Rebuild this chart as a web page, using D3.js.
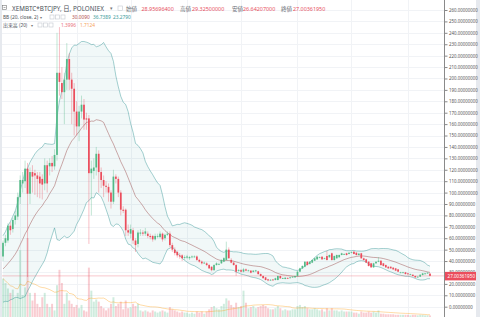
<!DOCTYPE html>
<html><head><meta charset="utf-8">
<script src="https://cdn.jsdelivr.net/npm/d3@7"></script>
<style>
html,body{margin:0;padding:0;background:#fff;}
svg{display:block;}
text{font-family:"Noto Sans","Noto Sans CJK JP",sans-serif;}
text.jp{font-family:"Noto Sans CJK JP","Noto Sans",sans-serif;}
</style></head><body>
<svg id="c" width="480" height="317"></svg>
<script>
// ---- data (JPY per XEM, daily) ----
const priorCloses=[18,19,18,20,19,21,20,22,23,24,26,32,40,47,52,57,54,50,44];
const opens=[44,56,58,71,68,76,79,96,108,110,
121,99,118,117,115,114,112,108,124,123,
126,123,133,205,196,188,199,217,199,191,
171,158,171,177,165,165,117,119,122,134,
118,111,106,105,100,92,114,112,100,85,
85,67,64,67,58,55,64,65,64,64,
62,62,59,62,61,64,60,63,64,54,
50,48,45,45,43,43,42.5,43.5,44,44,
41,39.5,38.5,38,36.5,35,32,36.5,37.5,38,
39.5,41,50,41,38.6,36.5,32,32,30.7,32.7,
31.6,31.6,30.5,31,31,28.6,26.9,25.7,24,23.4,
23.8,23.4,23.4,26.9,24.9,24.3,25.2,25,25.7,25.7,
26.9,30.7,33.6,35,39.4,37.4,38.6,40.3,41.5,43.3,
43.8,42.4,44.4,43.3,46.8,40.9,42.4,43.3,45.3,46.2,
46.8,46.2,47.3,48.2,47.3,45.3,46.8,42.4,41.5,39.4,
38,34.5,38,39.4,40.3,38,36.5,35,35,34.2,
33.6,32.7,29.8,30,30.1,29.2,28.6,28,26.9,26,
26.3,27.8,28.6,29.2,28.956964];
const highs=[58,63,73,74,78,84,100,115,118,128,
126,122,124,120,118,118,116,130,128,130,
132,138,240,245,210,205,231,222,205,196,
180,176,185,182,170,168,128,130,140,137,
122,115,110,108,102,120,116,114,102,88,
86,72,72,69,60,67,68,67,69,66,
64,63,64,64,66,65,64,66,66,56,
52,49,47,46,45,45.5,44.5,45,45,45,
42,40.5,39.5,39,37.5,35.5,37.5,39,38.5,41.5,
43.5,57,52,42.5,39.5,37.5,33,33,34,33.5,
32.5,32,32,32.3,31.5,29.2,27.5,26,24.5,24.2,
24.3,25.5,27.5,27.3,25.6,25.9,25.7,26.2,26.8,27.4,
31.2,34.2,36.3,40,40,40,41.5,43,44.4,44,
44.3,43,49,45.8,47.4,44.9,45.8,45.8,47.3,46.8,
47.3,47.8,48.4,48.7,47.8,47.2,47.2,43,42,40,
38.5,38.5,39.9,43.5,40.8,38.4,37,35.5,35.4,34.7,
34,33.1,30.6,30.6,30.5,29.6,29,28.4,27.3,26.8,
28.4,29.6,29.6,30.2,29.325];
const lows=[40,53,56,63,65,72,76,90,100,104,
26,90,100,98,96,95,94,102,100,115,
118,120,128,185,182,160,190,190,160,150,
150,145,165,155,155,55,80,112,115,100,
104,96,100,92,86,90,108,96,80,82,
62,62,60,55,48,52,62,62,62,60,
59,57,58,60,60,57,58,62,52,48,
45,43,42,40,41,42,41,42.5,43,40,
38.5,37,37.5,35.5,33,31,31.5,36,36.5,37.5,
39,40.5,42,38,36,27,30.5,30,30,31,
31,29.2,30,30.5,28,26.4,24.5,23,22.3,22.8,
22.7,23,23,24.5,24.4,24,24.6,24.7,25.3,25.3,
26.5,30.2,33,34.5,36,37,38.2,40,41,42.7,
41,41.8,40.5,42.8,40.4,40.4,42,43,45,45.7,
44.8,45.8,46.9,45.8,44.8,45,42,40.4,38.2,35.2,
34,34,37.6,39,36,35.2,34,33.2,33.2,32.3,
31.2,30.3,29.4,29.6,28.2,28,28.2,26.5,25.3,25.6,
26,27.4,28.2,28.8,26.64207];
const closes=[56,60,71,67,76,80,96,111,111,121,
99,118,114,115,112,108,107,124,108,126,
123,133,205,197,188,199,217,199,191,171,
158,171,177,164,164,117,121,122,134,118,
111,106,105,100,92,114,112,100,85,84,
67,65,68,58,54,65,65,64,66,62,
61,59,62,62,64,59,63,64,54,50,
47,45,44,42.5,43.5,44,43.5,44,44,41,
39.5,38,38.6,36.5,33.6,32,36.5,38,37.5,41,
42.5,50,42.5,38.6,36.5,30.7,32,30.7,32.7,31.6,
31.8,29.8,31.6,31.8,28.6,26.9,25,23.4,23,23.6,
23.2,24.9,26.9,24.9,25,25.4,25,25.7,26.3,26.9,
30.7,33.6,35.7,39.4,36.5,39.4,40.9,42.4,43.8,43.3,
41.5,42.4,40.9,45.3,40.9,44.4,45.3,45.3,46.8,46.2,
45.3,47.3,47.7,46.2,45.3,46.5,42.4,40.9,38.6,35.7,
34.5,38,39.4,40.3,36.5,35.7,34.5,33.6,33.6,32.7,
31.6,30.7,30.1,30.1,28.6,28.4,28.6,26.9,25.7,26.3,
28,29.2,29.2,29.8,27.0036195];
const volumes=[35,31,26,22,25,18,22,61,20,27,
72,22,15,22,12,9,18,22,12,9,
12,6,29,43,31,12,22,15,12,9,
11,8,11,6,5,45,24,14,16,14,
10,8,6,8,12,18,10,12,14,7,
15,8,9,12,10,12,6,5,6,5,
4,6,5,4,5,6,5,4,9,7,
6,5,4,5,4,4,3,4,3,5,
4,5,3,5,7,9,10,8,7,10,
12,17,15,11,9,13,9,10,24,13,
8,9,10,8,9,10,11,10,8,7,
7,8,10,8,6,7,6,6,7,7,
10,11,9,10,8,7,7,8,7,6,
7,5,8,6,8,6,6,5,6,5,
5,5,5,4,4,3,5,4,4,5,
4,5,4,6,3,3,2.5,2.5,2.5,2.5,
2,2,2,2,2,2,1.5,2,2,1.5,
2,2,1.5,1.5,1.3996];
const priceTicks=[0,10,20,30,40,50,60,70,80,90,100,110,120,130,140,150,160,170,180,190,200,210,220,230,240,250,260];
const gridIdx=[7,30,52,75,97,120,142,165];
const lastPrice=27.00361950;
const titleText="XEMBTC*BTCJPY, 日, POLONIEX";
const ohlcLabels=["始値","高値","安値","終値"];
const ohlcValues=["28.95696400","29.32500000","26.64207000","27.00361950"];
const bbTitle="BB (20, close, 2)";
const bbValues=["30.0090","36.7389","23.2790"];
const volTitle="出来高 (20)";
const volValues=["1.3996","1.7124"];

// ---- drawing ----
const W=480,H=317;
const svg=d3.select('#c');
const n=closes.length;
const x=d3.scaleLinear().domain([0,n-1]).range([3,430]);
const y=d3.scaleLinear().domain([0,260]).range([306.7,10]);
const yv=d3.scaleLinear().domain([0,72]).range([317,238]);
const step=x(1)-x(0);
const UP='#53b987', DN='#eb4d5c';

svg.append('rect').attr('width',W).attr('height',H).attr('fill','#e6e9ee');
svg.append('rect').attr('x',2).attr('y',0).attr('width',474).attr('height',H).attr('fill','#fff');

// grid
const gg=svg.append('g').attr('stroke','#f1f3f6').attr('stroke-width',1);
gg.selectAll('line.h').data(priceTicks).join('line')
  .attr('x1',2).attr('x2',444).attr('y1',d=>Math.round(y(d))+0.5).attr('y2',d=>Math.round(y(d))+0.5);
gg.selectAll('line.v').data(gridIdx).join('line')
  .attr('x1',d=>Math.round(x(d))+0.5).attr('x2',d=>Math.round(x(d))+0.5).attr('y1',0).attr('y2',H);

const data=closes.map((c,i)=>({i,o:opens[i],h:highs[i],l:lows[i],c,v:volumes[i],up:c>=opens[i]}));

// volume
svg.append('g').selectAll('rect').data(data).join('rect')
  .attr('x',d=>x(d.i)-step*0.4).attr('width',step*0.8)
  .attr('y',d=>yv(d.v)).attr('height',d=>yv(0)-yv(d.v))
  .attr('fill',d=>d.up?UP:DN).attr('fill-opacity',0.28);
const vma=data.map(d=>({i:d.i,v:d3.mean(volumes.slice(Math.max(0,d.i-19),d.i+1))}));
svg.append('path').datum(vma)
  .attr('d',d3.line().x(d=>x(d.i)).y(d=>yv(d.v)))
  .attr('fill','none').attr('stroke','#ff9800').attr('stroke-opacity',0.35).attr('stroke-width',1);

// Bollinger
const all=priorCloses.concat(closes);
const bb=closes.map((c,i)=>{const w=all.slice(i,i+20);const m=d3.mean(w);const s=Math.sqrt(d3.mean(w,v=>(v-m)*(v-m)));return {i,m,u:m+2*s,l:m-2*s};});
svg.append('path').datum(bb)
  .attr('d',d3.area().x(d=>x(d.i)).y0(d=>y(d.l)).y1(d=>y(d.u)))
  .attr('fill','#198787').attr('fill-opacity',0.06);
[['u','#138484'],['l','#138484'],['m','#872323']].forEach(([k,col])=>{
  svg.append('path').datum(bb)
    .attr('d',d3.line().x(d=>x(d.i)).y(d=>y(d[k])))
    .attr('fill','none').attr('stroke',col).attr('stroke-opacity',0.38).attr('stroke-width',1);
});

// last price line
svg.append('line').attr('x1',2).attr('x2',444)
  .attr('y1',y(lastPrice)).attr('y2',y(lastPrice))
  .attr('stroke',DN).attr('stroke-opacity',0.3).attr('stroke-width',1);

// candles
const cg=svg.append('g');
cg.selectAll('line').data(data).join('line')
  .attr('x1',d=>x(d.i)).attr('x2',d=>x(d.i))
  .attr('y1',d=>y(d.h)).attr('y2',d=>y(d.l))
  .attr('stroke',d=>d.up?UP:DN).attr('stroke-opacity',0.4).attr('stroke-width',0.9);
cg.selectAll('rect').data(data).join('rect')
  .attr('x',d=>x(d.i)-step*0.35).attr('width',step*0.7)
  .attr('y',d=>y(Math.max(d.o,d.c)))
  .attr('height',d=>Math.max(0.8,Math.abs(y(d.o)-y(d.c))))
  .attr('fill',d=>d.up?UP:DN);

// right axis
const ax=d3.axisRight(y).tickValues(priceTicks).tickSize(3).tickPadding(1.5).tickFormat(d3.format('.8f'));
const axG=svg.append('g').attr('transform','translate(444.5,0)').call(ax);
axG.select('.domain').remove();
axG.selectAll('.tick line').attr('stroke','#888');
axG.selectAll('.tick text').attr('font-size',4.4).attr('fill','#555');
svg.append('line').attr('x1',444.5).attr('x2',444.5).attr('y1',0).attr('y2',H).attr('stroke','#8a8a8a').attr('stroke-width',1);

// price label
svg.append('rect').attr('x',445).attr('y',y(lastPrice)-4).attr('width',31).attr('height',8.5).attr('fill',DN);
svg.append('text').attr('x',447.5).attr('y',y(lastPrice)+1.9).attr('font-size',4.6).attr('fill','#fff').text(d3.format('.8f')(lastPrice));

// legend
const lg=svg.append('g');
function icon(xx,yy,s){lg.append('rect').attr('x',xx).attr('y',yy).attr('width',s).attr('height',s).attr('fill','#fff').attr('stroke','#c4c8cf').attr('stroke-width',0.6);}
function txt(xx,yy,t,size,col,cls){const e=lg.append('text').attr('x',xx).attr('y',yy).attr('font-size',size).attr('fill',col).text(t);if(cls)e.attr('class',cls);return e;}
// line 1
lg.append('rect').attr('x',2.5).attr('y',5.5).attr('width',4).attr('height',4).attr('fill','none').attr('stroke','#777').attr('stroke-width',0.6);
lg.append('line').attr('x1',3.5).attr('x2',5.5).attr('y1',7.5).attr('y2',7.5).attr('stroke','#777').attr('stroke-width',0.6);
txt(12,10.5,titleText,6.3,'#4a4f57');
txt(110,10,'▾',4.5,'#777');
icon(118,6,4.5);
const ox=[126,180,232,281], vx=[141.5,192,243,293];
ohlcLabels.forEach((l,k)=>{txt(ox[k],10.5,l,5.6,'#6b6f76','jp');txt(vx[k],10.5,ohlcValues[k],5.4,'#e8505e');});
// line 2
txt(3,19,bbTitle,4.8,'#4a4f57');
txt(40,19,'▾',4,'#777');
[50,55.5,61].forEach(v=>icon(v,15,4));
const bbx=[72,93,113], bbc=['#b2504e','#3a9a9a','#3a9a9a'];
bbValues.forEach((t,k)=>txt(bbx[k],19,t,4.8,bbc[k]));
// line 3
txt(3,27,volTitle,4.9,'#4a4f57','jp');
txt(31,27,'▾',4,'#777');
[38,43.5,49].forEach(v=>icon(v,23,4));
txt(61,27,volValues[0],4.8,'#e8707a');
txt(80,27,volValues[1],4.8,'#f5a35c');
</script>
</body></html>
